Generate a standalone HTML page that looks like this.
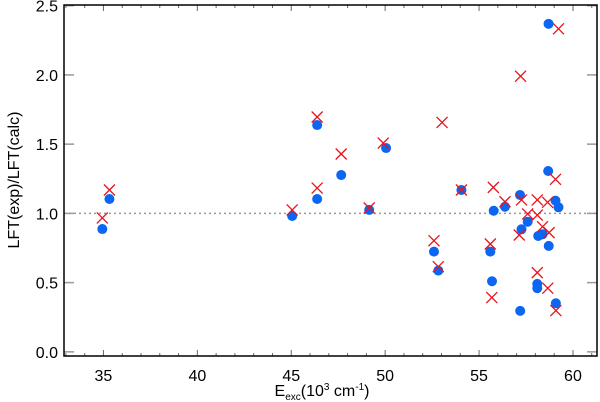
<!DOCTYPE html>
<html><head><meta charset="utf-8"><style>
body{margin:0;background:#fff;}
svg{display:block;font-family:"Liberation Sans",sans-serif;}
</style></head><body>
<svg id="chart" width="600" height="402"></svg>
<script>
const circX=[34.94,35.32,45.05,46.38,46.38,47.66,49.15,50.05,52.60,52.83,54.06,55.60,55.69,55.78,56.38,57.18,57.19,57.26,57.59,58.10,58.10,58.15,58.38,58.70,58.68,58.71,59.07,59.23,59.09];
const circY=[0.887,1.104,0.981,1.638,1.104,1.277,1.025,1.472,0.724,0.587,1.169,0.724,0.510,1.019,1.048,1.133,0.296,0.885,0.940,0.491,0.460,0.837,0.849,2.369,1.306,0.765,1.092,1.044,0.351];
const crossX=[34.94,35.32,45.05,46.38,46.38,47.66,49.15,49.90,52.60,52.83,53.03,54.06,55.60,55.68,55.76,56.38,57.21,57.26,57.14,57.59,58.10,58.10,58.10,58.38,58.65,58.66,58.73,59.07,59.09,59.23];
const crossY=[0.967,1.169,1.025,1.696,1.183,1.429,1.039,1.508,0.803,0.615,1.657,1.169,0.779,0.392,1.188,1.084,1.991,1.097,0.844,0.996,1.097,0.988,0.572,0.904,1.080,0.460,0.861,1.246,0.298,2.333];
const xTicks=[35,40,45,50,55,60];
const yTicks=[0.0,0.5,1.0,1.5,2.0,2.5];
const X0=32.9,X1=61.28,Y0=-0.03,Y1=2.505;
const L=64,R=597,T=5,B=356;
const sx=v=>L+(v-X0)/(X1-X0)*(R-L);
const sy=v=>B-(v-Y0)/(Y1-Y0)*(B-T);
const svg=document.getElementById('chart');
const NS='http://www.w3.org/2000/svg';
function mk(tag,attrs,parent){const e=document.createElementNS(NS,tag);for(const k in attrs)e.setAttribute(k,attrs[k]);(parent||svg).appendChild(e);return e;}
let ref=mk('line',{x1:L,x2:R,y1:sy(1),y2:sy(1),stroke:'#999','stroke-width':1.5,'stroke-dasharray':'2,3'});


for(let v=33;v<=61;v++){const major=v%5===0;const len=major?6:3;
 mk('line',{x1:sx(v),x2:sx(v),y1:B,y2:B-len,stroke:'#666'});
 mk('line',{x1:sx(v),x2:sx(v),y1:T,y2:T+len,stroke:'#666'});}
xTicks.forEach(v=>{const t=mk('text',{x:sx(v),y:381,'font-size':16,'text-anchor':'middle'});t.textContent=v;
 
 });
yTicks.forEach(v=>{mk('line',{x1:L,x2:L+10,y1:sy(v),y2:sy(v),stroke:'#999','stroke-width':1.5});mk('line',{x1:R,x2:R-10,y1:sy(v),y2:sy(v),stroke:'#999','stroke-width':1.5});
 const t=mk('text',{x:58,y:sy(v)+6,'font-size':16,'text-anchor':'end'});t.textContent=v.toFixed(1);
 
 });
circX.forEach((x,i)=>{const c=mk('circle',{cx:sx(x),cy:sy(circY[i]),r:5,fill:'#0b66f2'});
 
 });
crossX.forEach((x,i)=>{const cx=sx(x),cy=sy(crossY[i]),s=5.5;
 const p=mk('path',{d:`M${cx-s},${cy-s}L${cx+s},${cy+s}M${cx-s},${cy+s}L${cx+s},${cy-s}`,stroke:'#e8131b','stroke-width':1.3,fill:'none'});
 
 });
let fr=mk('rect',{x:L,y:T,width:R-L,height:B-T,fill:'none',stroke:'#000','stroke-width':1.5});


</script>
<svg width="600" height="402" style="position:absolute;left:0;top:0">
<text x="322" y="396" font-family="Liberation Sans" font-size="16" text-anchor="middle">E<tspan font-size="10" dy="4">exc</tspan><tspan dy="-4">(10</tspan><tspan font-size="10" dy="-6">3</tspan><tspan dy="6"> cm</tspan><tspan font-size="10" dy="-6">-1</tspan><tspan dy="6">)</tspan></text>
<text transform="translate(19,180) rotate(-90)" font-family="Liberation Sans" font-size="16" text-anchor="middle">LFT(exp)/LFT(calc)</text>
</svg>
</body></html>
